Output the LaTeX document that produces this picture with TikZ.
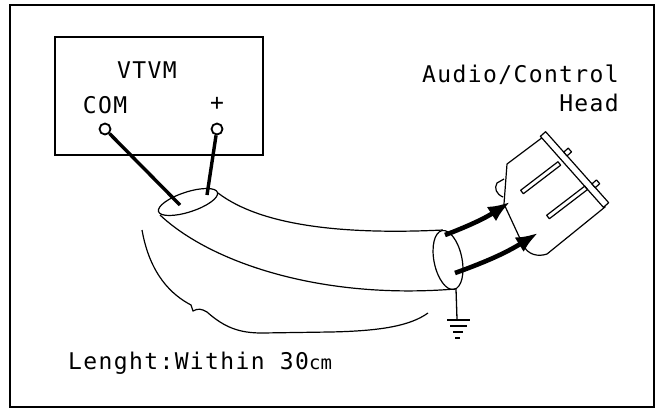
\documentclass[tikz,border=0pt]{standalone}
\usepackage{fontspec}
\setmonofont{DejaVu Sans Mono}[LetterSpace=6]
\usetikzlibrary{arrows.meta}
\begin{document}
\begin{tikzpicture}[x=1pt,y=-1pt,
  txt/.style={font=\ttfamily\fontsize{23}{23}\selectfont, inner sep=0pt},
  wire/.style={line width=3.4pt},
  outline/.style={line width=1.2pt, line join=round},
  terminal/.style={circle, draw, line width=1.8pt, fill=white, minimum size=11pt, inner sep=0pt},
  lead/.style={line width=4.6pt, -{Latex[length=22pt,width=17pt]}},
  gndbar/.style={line width=1.4pt}]

% page and outer frame
\fill[white] (0,0) rectangle (659,410);
\useasboundingbox (0,0) rectangle (659,410);
\draw[line width=2pt] (10,5) rectangle (654,407);

% meter box with its terminals
\node[draw, line width=1.5pt, minimum width=208pt, minimum height=118pt, anchor=north west] (vtvm) at (54,36) {};
\node[txt] (vtvmlabel) at (147,70) {VTVM};
\node[txt] (comlabel) at (105,105) {COM};
\node[txt] (pluslabel) at (217,104) {+};

% cable (shielded lead)
\coordinate (nearC) at (188,202);
\coordinate (farC) at (448,260);
\draw[outline] (218,193) .. controls (260,225) and (340,235) .. (443,230);
\draw[outline] (160,215) .. controls (210,262) and (320,300) .. (455,289);
\draw[outline, fill=white] (nearC) ellipse [x radius=31pt, y radius=10pt, rotate=18];
\draw[outline] (farC) ellipse [x radius=14pt, y radius=30pt, rotate=11.5];

% test leads from the meter into the cable
\coordinate (comEnd) at (180,205);
\coordinate (plusEnd) at (207,195);
\node[terminal] (com) at (105,129) {};
\node[terminal] (plus) at (217,129) {};
\draw[wire] (com) -- (comEnd);
\draw[wire] (plus) -- (plusEnd);

% hand holding the cable
\draw[outline] (142,230) .. controls (150,275) and (172,295) .. (191,305)
  -- (193,311) .. controls (198,308) and (202,309) .. (207,312)
  .. controls (225,328) and (240,333) .. (262,333)
  -- (330,332) .. controls (380,331) and (410,326) .. (428,313);

% ground
\coordinate (gndTop) at (456,289);
\coordinate (gnd) at (457,319);
\draw[line width=1.3pt] (gndTop) -- (gnd);
\draw[gndbar] (447,320) -- (470,320);
\draw[gndbar] (450,326) -- (467,326);
\draw[gndbar] (453,332) -- (463,332);
\draw[line width=2pt] (455,337.5) -- (460,337.5);

% head
\draw[outline, fill=white] (543,137) -- (507,164) -- (504,204) -- (523,245)
  .. controls (528,255) and (538,257) .. (547,254) -- (605,207) -- cycle;
\draw[outline, fill=white] (504,179) -- (497,183) .. controls (494,188) and (496,194) .. (503,197);
\begin{scope}[shift={(543,134)}, rotate=-48.4]
  \draw[outline, fill=white] (0,-3.5) rectangle (95,3.5);
\end{scope}
\begin{scope}[shift={(565.4,154)}, rotate=41.6]
  \draw[outline, fill=white] (0,-2.5) rectangle (6,2.5);
\end{scope}
\begin{scope}[shift={(593.6,185.8)}, rotate=41.6]
  \draw[outline, fill=white] (0,-2.5) rectangle (6,2.5);
\end{scope}
\begin{scope}[shift={(522,192)}, rotate=37.4]
  \draw[outline] (0,-2.2) rectangle (47,2.2);
\end{scope}
\begin{scope}[shift={(548,217)}, rotate=37.4]
  \draw[outline] (0,-2.2) rectangle (48,2.2);
\end{scope}

% signal leads to the head
\coordinate (leadA) at (445,235);
\coordinate (leadB) at (455,273);
\coordinate (headA) at (510,202);
\coordinate (headB) at (538,233);
\draw[lead] (leadA) to[bend right=6] (headA);
\draw[lead] (leadB) to[bend right=6] (headB);

% captions
\node[txt, anchor=east] (headname) at (619,75) {Audio/Control};
\node[txt, anchor=east] (headname2) at (619,103) {Head};
\node[txt, anchor=west] (length) at (68,363) {Lenght:Within 30{\addfontfeature{LetterSpace=0}\fontsize{19}{19}\selectfont cm}};
\end{tikzpicture}
\end{document}
